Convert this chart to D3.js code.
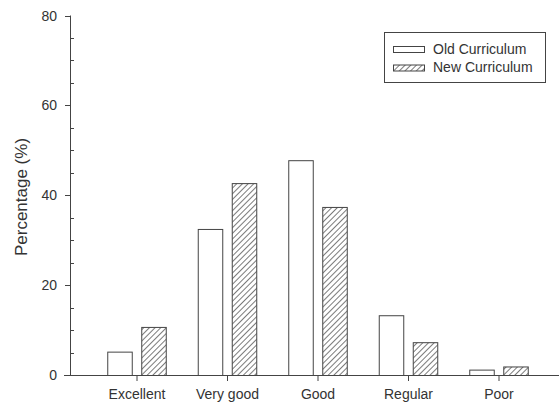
<!DOCTYPE html>
<html>
<head>
<meta charset="utf-8">
<script src="https://cdn.jsdelivr.net/npm/d3@7"></script>
<style>
  html, body { margin: 0; padding: 0; background: #fff; }
  svg { display: block; font-family: "Liberation Sans", Arial, sans-serif; }
</style>
</head>
<body>
<svg id="chart" width="559" height="402"></svg>
<script>
const categories = ["Excellent", "Very good", "Good", "Regular", "Poor"];
const seriesNames = ["Old Curriculum", "New Curriculum"];
const oldValues = [5.2, 32.5, 47.8, 13.3, 1.2];
const newValues = [10.7, 42.7, 37.4, 7.3, 1.9];
const yTicks = [0, 20, 40, 60, 80];
const yMinorTicks = [5, 10, 15, 25, 30, 35, 45, 50, 55, 65, 70, 75];

const svg = d3.select("#chart");
const axisColor = "#444";
const textColor = "#333";

// hatch pattern
const defs = svg.append("defs");
const pat = defs.append("pattern")
  .attr("id", "hatch")
  .attr("patternUnits", "userSpaceOnUse")
  .attr("width", 4).attr("height", 4)
  .attr("patternTransform", "rotate(45)");
pat.append("rect").attr("width", 4).attr("height", 4).attr("fill", "#fff");
pat.append("line").attr("x1", 0).attr("y1", 0).attr("x2", 0).attr("y2", 4)
  .attr("stroke", "#333").attr("stroke-width", 1.3);

const y = d3.scaleLinear().domain([0, 80]).range([375, 15.5]);
const x0 = d3.scaleBand().domain(categories).range([91.75, 544.25]).padding(0);
const x1 = d3.scaleBand().domain(seriesNames).range([15.5, 75]).paddingInner(0.25).paddingOuter(0);

const data = categories.map((c, i) => ({ cat: c, vals: [
  { s: seriesNames[0], v: oldValues[i] },
  { s: seriesNames[1], v: newValues[i] }
]}));

// bars
const g = svg.append("g");
g.selectAll("g.cat").data(data).join("g")
  .attr("transform", d => `translate(${x0(d.cat)},0)`)
  .selectAll("rect").data(d => d.vals).join("rect")
  .attr("x", d => x1(d.s) + 0.5)
  .attr("y", d => y(d.v) + 0.5)
  .attr("width", x1.bandwidth() - 1)
  .attr("height", d => y(0) - y(d.v))
  .attr("fill", d => d.s === seriesNames[0] ? "#fff" : "url(#hatch)")
  .attr("stroke", "#444")
  .attr("stroke-width", 1);

// y axis
const yAxisX = 70;
const yAx = svg.append("g").attr("transform", `translate(${yAxisX},0)`);
yAx.append("line").attr("x1", 0.5).attr("x2", 0.5).attr("y1", y(80)).attr("y2", y(0))
  .attr("stroke", axisColor).attr("stroke-width", 1);
yAx.selectAll("line.maj").data(yTicks).join("line").attr("class", "maj")
  .attr("x1", -5).attr("x2", 0.5)
  .attr("y1", d => Math.round(y(d)) + 0.5).attr("y2", d => Math.round(y(d)) + 0.5)
  .attr("stroke", axisColor);
yAx.selectAll("line.min").data(yMinorTicks).join("line").attr("class", "min")
  .attr("x1", 0.5).attr("x2", 4)
  .attr("y1", d => Math.round(y(d)) + 0.5).attr("y2", d => Math.round(y(d)) + 0.5)
  .attr("stroke", axisColor);
yAx.selectAll("text").data(yTicks).join("text")
  .attr("x", -13).attr("y", d => y(d) + 5)
  .attr("text-anchor", "end")
  .attr("font-size", 14).attr("fill", textColor)
  .text(d => d);

// x axis
const xAx = svg.append("g");
xAx.append("line").attr("x1", 64).attr("x2", 559)
  .attr("y1", Math.round(y(0)) + 0.5).attr("y2", Math.round(y(0)) + 0.5)
  .attr("stroke", axisColor);
xAx.selectAll("line.tk").data(categories).join("line").attr("class", "tk")
  .attr("x1", d => x0(d) + x0.bandwidth() / 2).attr("x2", d => x0(d) + x0.bandwidth() / 2)
  .attr("y1", Math.round(y(0)) + 0.5).attr("y2", Math.round(y(0)) + 6)
  .attr("stroke", axisColor);
xAx.selectAll("text").data(categories).join("text")
  .attr("x", d => x0(d) + x0.bandwidth() / 2).attr("y", 399)
  .attr("text-anchor", "middle")
  .attr("font-size", 14).attr("fill", textColor)
  .text(d => d);

// y label
svg.append("text")
  .attr("transform", "translate(27,197) rotate(-90)")
  .attr("text-anchor", "middle")
  .attr("font-size", 17).attr("fill", textColor)
  .text("Percentage (%)");

// legend
const lg = svg.append("g");
lg.append("rect").attr("x", 384.5).attr("y", 32.5).attr("width", 161).attr("height", 50)
  .attr("fill", "#fff").attr("stroke", axisColor);
seriesNames.forEach((s, i) => {
  const yy = 47 + i * 18.5;
  lg.append("rect").attr("x", 393.5).attr("y", yy - 0.5).attr("width", 31).attr("height", 6)
    .attr("fill", i === 0 ? "#fff" : "url(#hatch)").attr("stroke", "#444");
  lg.append("text").attr("x", 433).attr("y", yy + 6.5)
    .attr("font-size", 14).attr("fill", textColor).text(s);
});
</script>
</body>
</html>
